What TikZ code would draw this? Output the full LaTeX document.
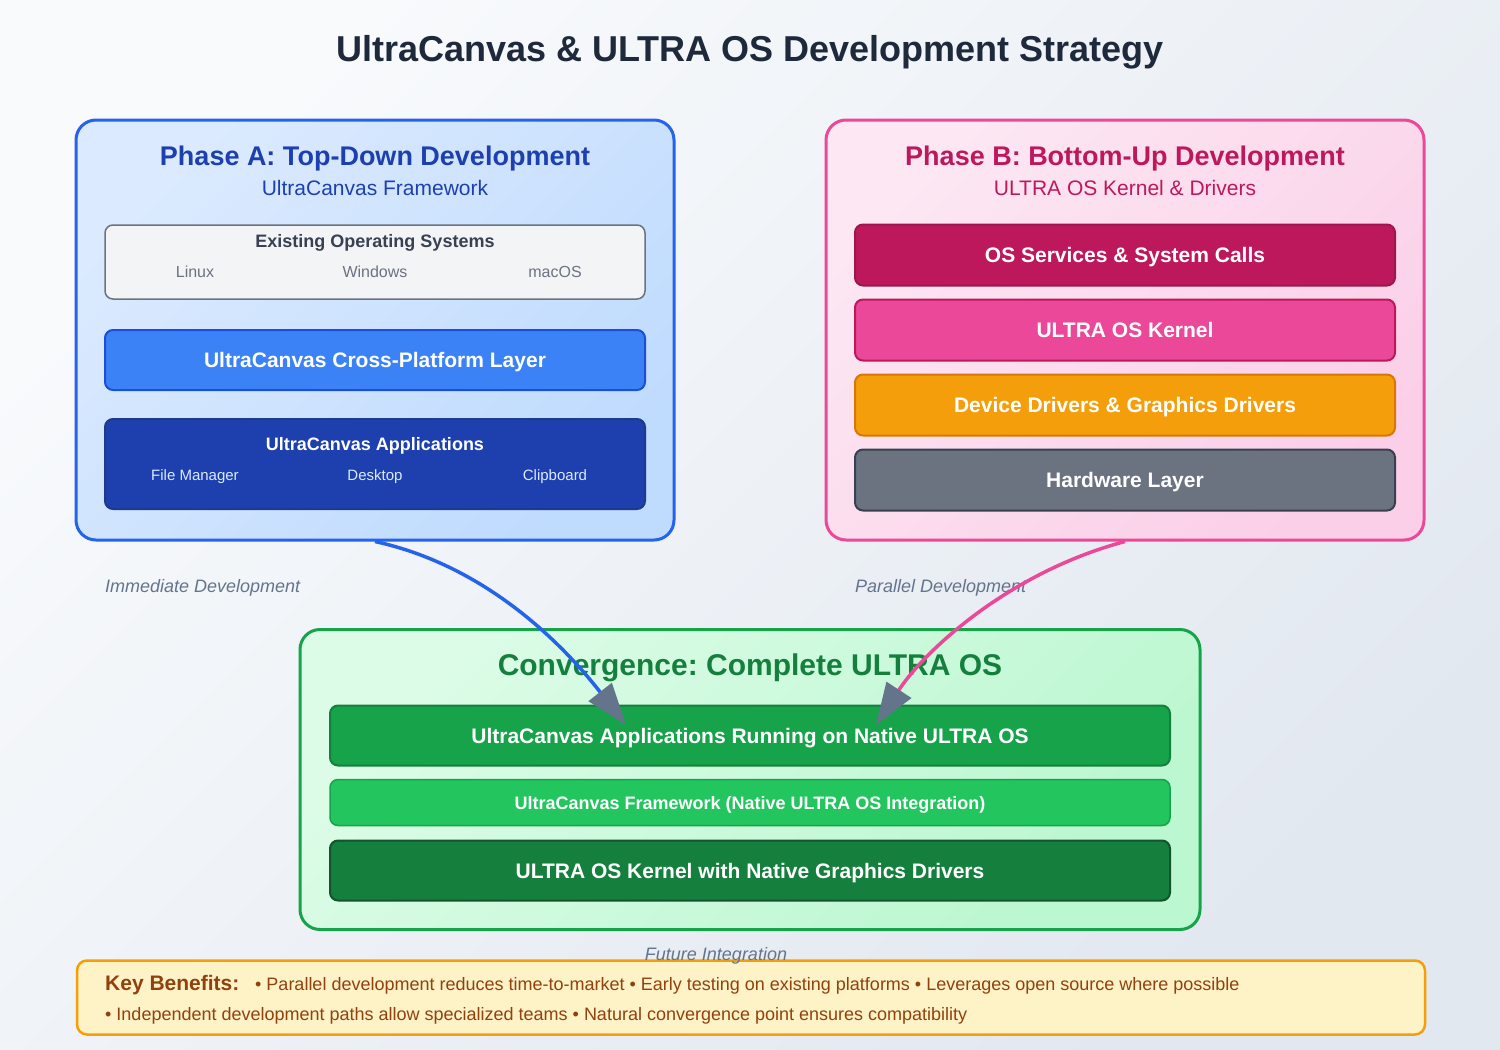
\documentclass[tikz,border=0pt]{standalone}
\usepackage{fontspec}
\setmainfont{Liberation Sans}
\usetikzlibrary{arrows.meta}
\frenchspacing
\definecolor{bgA}{HTML}{F8FAFC}
\definecolor{bgB}{HTML}{E2E8F0}
\definecolor{titlec}{HTML}{1E293B}
\definecolor{blueA}{HTML}{2563EB}
\definecolor{paL}{HTML}{DBEAFE}
\definecolor{paD}{HTML}{BFDBFE}
\definecolor{paText}{HTML}{1E40AF}
\definecolor{osFill}{HTML}{F3F4F6}
\definecolor{osStroke}{HTML}{6B7280}
\definecolor{osTitle}{HTML}{374151}
\definecolor{osItem}{HTML}{6B7280}
\definecolor{crossF}{HTML}{3B82F6}
\definecolor{crossS}{HTML}{1D4ED8}
\definecolor{appsF}{HTML}{1E40AF}
\definecolor{appsS}{HTML}{1E3A8A}
\definecolor{appsItem}{HTML}{DBEAFE}
\definecolor{pinkA}{HTML}{EC4899}
\definecolor{pbL}{HTML}{FCE7F3}
\definecolor{pbD}{HTML}{FBCFE8}
\definecolor{pbText}{HTML}{BE185D}
\definecolor{svcS}{HTML}{9D174D}
\definecolor{devF}{HTML}{F59E0B}
\definecolor{devS}{HTML}{D97706}
\definecolor{hwF}{HTML}{6B7280}
\definecolor{hwS}{HTML}{374151}
\definecolor{labelc}{HTML}{64748B}
\definecolor{convS}{HTML}{16A34A}
\definecolor{convL}{HTML}{DCFCE7}
\definecolor{convD}{HTML}{BBF7D0}
\definecolor{convT}{HTML}{15803D}
\definecolor{bTwo}{HTML}{22C55E}
\definecolor{bThreeS}{HTML}{14532D}
\definecolor{arrowgray}{HTML}{64748B}
\definecolor{benF}{HTML}{FEF3C7}
\definecolor{benS}{HTML}{F59E0B}
\definecolor{benT}{HTML}{92400E}
\begin{document}
\begin{tikzpicture}[x=1pt,y=-1pt,
  diag/.style 2 args={top color=#1, bottom color=#2, shading angle=45},
  phasebox/.style={rounded corners=20pt, line width=3pt, inner sep=0pt},
  layerbox/.style={rounded corners=8pt, line width=2pt, inner sep=0pt, text=white,
    font=\bfseries\fontsize{21}{24}\selectfont, text height=15pt, text depth=0pt,
    minimum width=540pt, minimum height=60pt},
  convbox/.style={layerbox, minimum width=840pt},
  ptitle/.style={font=\bfseries\fontsize{27}{30}\selectfont, anchor=base},
  psub/.style={font=\fontsize{21}{24}\selectfont, anchor=base},
  itemtext/.style={font=\fontsize{15}{18}\selectfont, anchor=base},
  flowlabel/.style={font=\itshape\fontsize{18}{20}\selectfont, text=labelc, anchor=base west, inner sep=0pt},
  conn/.style={line width=3.5pt}
]
\useasboundingbox (0,0) rectangle (1500,1050);
\shade[diag={bgA}{bgB}] (0,0) rectangle (1500,1050);

% title
\node[font=\bfseries\fontsize{36}{40}\selectfont, text=titlec, anchor=base] (title) at (750,61) {UltraCanvas \& ULTRA OS Development Strategy};

% Phase A
\node[phasebox, draw=blueA, diag={paL}{paD},
      minimum width=598pt, minimum height=420pt] (pa) at (375,330) {};
\node[ptitle, text=paText] (pat) at (375,165.5) {Phase A: Top-Down Development};
\node[psub, text=paText] (pas) at (375,195.5) {UltraCanvas Framework};
\node[rounded corners=8pt, draw=osStroke, line width=1.5pt, fill=osFill, minimum width=540pt, minimum height=74pt, inner sep=0pt] (os) at (375,262) {};
\node[font=\bfseries\fontsize{18}{20}\selectfont, text=osTitle, anchor=base] (ost) at (375,247.5) {Existing Operating Systems};
\node[itemtext, text=osItem, font=\fontsize{16}{18}\selectfont] (linux) at (195,277.5) {Linux};
\node[itemtext, text=osItem, font=\fontsize{16}{18}\selectfont] (win) at (375,277.5) {Windows};
\node[itemtext, text=osItem, font=\fontsize{16}{18}\selectfont] (mac) at (555,277.5) {macOS};
\node[layerbox, fill=crossF, draw=crossS] (cross) at (375,360) {UltraCanvas Cross-Platform Layer};
\node[layerbox, fill=appsF, draw=appsS, minimum height=90pt] (apps) at (375,464) {};
\node[font=\bfseries\fontsize{18}{20}\selectfont, text=white, anchor=base] (appt) at (375,450.5) {UltraCanvas Applications};
\node[itemtext, text=appsItem] (fm) at (195,480.5) {File Manager};
\node[itemtext, text=appsItem] (desk) at (375,480.5) {Desktop};
\node[itemtext, text=appsItem] (clip) at (555,480.5) {Clipboard};

% Phase B
\node[phasebox, draw=pinkA, diag={pbL}{pbD},
      minimum width=598pt, minimum height=420pt] (pb) at (1125,330) {};
\node[ptitle, text=pbText] (pbt) at (1125,165.5) {Phase B: Bottom-Up Development};
\node[psub, text=pbText] (pbs) at (1125,195.5) {ULTRA OS Kernel \& Drivers};
\node[layerbox, fill=pbText, draw=svcS, minimum height=61pt] (svc) at (1125,255) {OS Services \& System Calls};
\node[layerbox, fill=pinkA, draw=pbText, minimum height=61pt] (kern) at (1125,330) {ULTRA OS Kernel};
\node[layerbox, fill=devF, draw=devS, minimum height=61pt] (dev) at (1125,405) {Device Drivers \& Graphics Drivers};
\node[layerbox, fill=hwF, draw=hwS, minimum height=61pt] (hw) at (1125,480) {Hardware Layer};

% flow labels
\node[flowlabel] (lblA) at (105,592.5) {Immediate Development};
\node[flowlabel] (lblB) at (855,592.5) {Parallel Development};

% Convergence
\node[phasebox, draw=convS, diag={convL}{convD},
      minimum width=900pt, minimum height=300pt] (conv) at (750,779.5) {};
\node[font=\bfseries\fontsize{30}{34}\selectfont, text=convT, anchor=base] (convt) at (750,675.5) {Convergence: Complete ULTRA OS};
\node[convbox, fill=convS, draw=convT] (c1) at (750,735.5) {UltraCanvas Applications Running on Native ULTRA OS};
\node[convbox, fill=bTwo, draw=convS, line width=1.5pt, minimum height=46pt,
      font=\bfseries\fontsize{18}{20}\selectfont, text height=13pt] (c2) at (750,802.5) {UltraCanvas Framework (Native ULTRA OS Integration)};
\node[convbox, fill=convT, draw=bThreeS] (c3) at (750,870.5) {ULTRA OS Kernel with Native Graphics Drivers};

% connectors
\coordinate (tipA) at (626,725);
\coordinate (tipB) at (876,725);
\draw[conn, blueA, -{Triangle[length=42pt,width=29pt,color=arrowgray]}]
  (pa.south) .. controls (497,568) and (575,660) .. (tipA);
\draw[conn, pinkA, -{Triangle[length=42pt,width=29pt,color=arrowgray]}]
  (pb.south) .. controls (1010,572) and (925,650) .. (tipB);

% benefits
\node[rounded corners=10pt, draw=benS, line width=2.5pt, fill=benF, minimum width=1348pt, minimum height=74pt, inner sep=0pt] (ben) at (751,997.5) {};
\node[font=\itshape\fontsize{18}{20}\selectfont, text=labelc, anchor=base] (fut) at (716,960.5) {Future Integration};
\node[font=\bfseries\fontsize{21}{24}\selectfont, text=benT, anchor=base west, inner sep=0pt] (kb) at (105,990.5) {Key Benefits:};
\node[font=\fontsize{18}{20}\selectfont, text=benT, anchor=base west, inner sep=0pt] (kb1) at (255,990.5) {• Parallel development reduces time-to-market • Early testing on existing platforms • Leverages open source where possible};
\node[font=\fontsize{18}{20}\selectfont, text=benT, anchor=base west, inner sep=0pt] (kb2) at (105,1020.5) {• Independent development paths allow specialized teams • Natural convergence point ensures compatibility};
\end{tikzpicture}
\end{document}
